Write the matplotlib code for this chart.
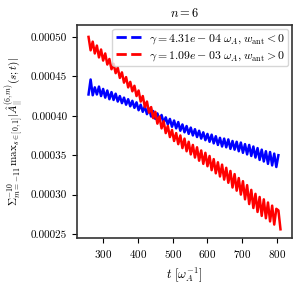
import numpy as np
import matplotlib
matplotlib.use("Agg")
import matplotlib.pyplot as plt
from matplotlib.lines import Line2D
from matplotlib.ticker import FormatStrFormatter

plt.rcParams['font.family'] = 'serif'
plt.rcParams['font.serif'] = ['cmr10', 'DejaVu Serif']
plt.rcParams['mathtext.fontset'] = 'cm'
plt.rcParams['axes.formatter.use_mathtext'] = True

# time samples (omega_A^-1)
t_red = np.arange(258, 816, 6)
t_blue = np.arange(258, 810, 6)

# values, in units of 1e-6
red_vals = [
    500, 483, 494, 479, 489, 474, 484, 470, 479, 465,
    472, 459, 466, 454, 461, 448, 455, 442, 449, 436,
    443, 431, 438, 425, 432, 418, 425, 411, 418, 404,
    411, 397, 405, 390, 399, 384, 393, 378, 387, 373,
    382, 368, 378, 364, 375, 359, 371, 355, 367, 351,
    363, 347, 360, 343, 356, 339, 353, 336, 349, 331,
    345, 327, 341, 323, 338, 319, 334, 315, 330, 309,
    326, 305, 321, 300, 317, 294, 312, 288, 306, 283,
    301, 278, 297, 273, 294, 270, 290, 266, 286, 262,
    282, 280, 256,
]
blue_vals = [
    427, 446, 426, 436, 427, 437, 425, 434, 423, 432,
    421, 430, 420, 428, 418, 425, 416, 423, 414, 421,
    412, 419, 410, 417, 407, 414, 405, 412, 402, 409,
    399, 406, 396, 403, 394, 401, 391, 398, 389, 396,
    386, 394, 384, 392, 381, 389, 379, 387, 377, 385,
    375, 383, 373, 381, 371, 379, 369, 377, 367, 376,
    365, 374, 363, 372, 361, 371, 360, 370, 358, 368,
    357, 367, 355, 366, 353, 364, 351, 363, 349, 361,
    347, 359, 344, 357, 342, 355, 339, 354, 337, 352,
    335, 350,
]

labels = [r'$\gamma = 4.31e-04\ \omega_A, w_{\rm ant} < 0$',
          r'$\gamma = 1.09e-03\ \omega_A, w_{\rm ant} > 0$']

red = np.array(red_vals) * 1e-6
blue = np.array(blue_vals) * 1e-6

fig = plt.figure(figsize=(3.01, 2.85), dpi=100)
ax = fig.add_axes([0.256, 0.165, 0.714, 0.747])

# dense oscillations make the dashed lines look solid
ax.plot(t_blue, blue, '-', color='blue', lw=1.8)
ax.plot(t_red, red, '-', color='red', lw=1.8)

ax.set_xlim(225, 843)
ax.set_ylim(0.000245, 0.000515)
ax.set_xticks([300, 400, 500, 600, 700, 800])
ax.set_yticks([0.00025, 0.00030, 0.00035, 0.00040, 0.00045, 0.00050])
ax.yaxis.set_major_formatter(FormatStrFormatter('%.5f'))
ax.tick_params(labelsize=8, width=0.8, length=3.5)
for s in ax.spines.values():
    s.set_linewidth(1.2)
    s.set_color('#333333')

ax.set_title(r'$n = 6$', fontsize=9)
ax.set_xlabel(r'$t\ [\omega_A^{-1}]$', fontsize=9)
ax.set_ylabel(r'$\Sigma_{m=-11}^{-10}\,\mathrm{max}_{s\in[0,1]}|\hat{A}_{||}^{(6,m)}(s;t)|$',
              fontsize=8, labelpad=3)

handles = [Line2D([], [], ls='--', color='blue', lw=2),
           Line2D([], [], ls='--', color='red', lw=2)]
ax.legend(handles, labels, loc='upper right', fontsize=8.5, handlelength=2.2,
          borderpad=0.3, labelspacing=0.25, borderaxespad=0.3, handletextpad=0.6)

fig.savefig('out.png', dpi=100)
